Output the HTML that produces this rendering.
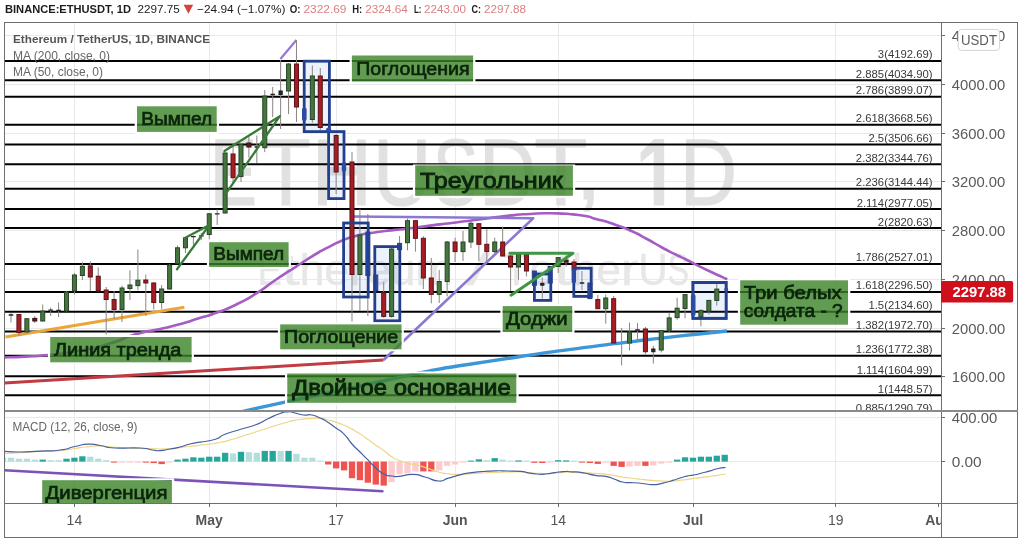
<!DOCTYPE html>
<html><head><meta charset="utf-8"><title>ETHUSDT 1D</title>
<style>html,body{margin:0;padding:0;background:#fff;}body{width:1024px;height:541px;overflow:hidden;font-family:"Liberation Sans",sans-serif;}svg{display:block;position:absolute;left:0;top:0;filter:blur(0.35px);}text{font-family:"Liberation Sans",sans-serif;}</style></head><body>
<svg width="1024" height="541" viewBox="0 0 1024 541">
<rect x="0" y="0" width="1024" height="541" fill="#fff"/>
<defs><clipPath id="main"><rect x="4.5" y="22.5" width="936.5" height="388.3"/></clipPath>
<clipPath id="mfull"><rect x="4.5" y="22.5" width="936.5" height="480.5"/></clipPath>
<clipPath id="taxis"><rect x="4.5" y="503.0" width="936.5" height="34.0"/></clipPath>
<clipPath id="paxis"><rect x="941.0" y="22.5" width="76.5" height="480.5"/></clipPath>
</defs>
<g stroke="#e9e9e9" stroke-width="1" shape-rendering="crispEdges">
<line x1="74.4" y1="22.5" x2="74.4" y2="503.0"/>
<line x1="209.2" y1="22.5" x2="209.2" y2="503.0"/>
<line x1="336.1" y1="22.5" x2="336.1" y2="503.0"/>
<line x1="455.1" y1="22.5" x2="455.1" y2="503.0"/>
<line x1="558.2" y1="22.5" x2="558.2" y2="503.0"/>
<line x1="693.0" y1="22.5" x2="693.0" y2="503.0"/>
<line x1="835.7" y1="22.5" x2="835.7" y2="503.0"/>
<line x1="4.5" y1="35.7" x2="941.0" y2="35.7"/>
<line x1="4.5" y1="84.5" x2="941.0" y2="84.5"/>
<line x1="4.5" y1="133.2" x2="941.0" y2="133.2"/>
<line x1="4.5" y1="181.9" x2="941.0" y2="181.9"/>
<line x1="4.5" y1="230.6" x2="941.0" y2="230.6"/>
<line x1="4.5" y1="279.3" x2="941.0" y2="279.3"/>
<line x1="4.5" y1="328.1" x2="941.0" y2="328.1"/>
<line x1="4.5" y1="376.8" x2="941.0" y2="376.8"/>
<line x1="4.5" y1="417.7" x2="941.0" y2="417.7"/>
<line x1="4.5" y1="461.6" x2="941.0" y2="461.6"/>
</g>
<g fill="#e1e1e1" stroke="#e1e1e1" stroke-width="1.2" stroke-linejoin="round" clip-path="url(#main)">
<text x="210.0" y="205" font-size="95" textLength="47.0" lengthAdjust="spacingAndGlyphs">E</text>
<text x="261.3" y="205" font-size="95" textLength="49.4" lengthAdjust="spacingAndGlyphs">T</text>
<text x="311.7" y="205" font-size="95" textLength="60.2" lengthAdjust="spacingAndGlyphs">H</text>
<text x="372.9" y="205" font-size="95" textLength="58.3" lengthAdjust="spacingAndGlyphs">U</text>
<text x="433.1" y="205" font-size="95" textLength="45.2" lengthAdjust="spacingAndGlyphs">S</text>
<text x="479.1" y="205" font-size="95" textLength="57.0" lengthAdjust="spacingAndGlyphs">D</text>
<text x="534.3" y="205" font-size="95" textLength="53.2" lengthAdjust="spacingAndGlyphs">T</text>
<text x="575.5" y="199" font-size="95" textLength="26.1" lengthAdjust="spacingAndGlyphs">,</text>
<text x="680.1" y="205" font-size="95" textLength="57.0" lengthAdjust="spacingAndGlyphs">D</text>
<path d="M654.3 139.6 L663.6 139.6 L663.6 205 L654.3 205 L654.3 150.2 L641.2 161.2 L641.2 152.6 Z"/>
<text x="257.8" y="284.5" font-size="45" fill="#e7e7e7" stroke="#e7e7e7" stroke-width="0.5" textLength="24.1" lengthAdjust="spacingAndGlyphs">E</text>
<text x="281.9" y="284.5" font-size="45" fill="#e7e7e7" stroke="#e7e7e7" stroke-width="0.5" textLength="17.8" lengthAdjust="spacingAndGlyphs">t</text>
<text x="299.7" y="284.5" font-size="45" fill="#e7e7e7" stroke="#e7e7e7" stroke-width="0.5" textLength="24.6" lengthAdjust="spacingAndGlyphs">h</text>
<text x="324.3" y="284.5" font-size="45" fill="#e7e7e7" stroke="#e7e7e7" stroke-width="0.5" textLength="24.5" lengthAdjust="spacingAndGlyphs">e</text>
<text x="348.8" y="284.5" font-size="45" fill="#e7e7e7" stroke="#e7e7e7" stroke-width="0.5" textLength="17.5" lengthAdjust="spacingAndGlyphs">r</text>
<text x="366.3" y="284.5" font-size="45" fill="#e7e7e7" stroke="#e7e7e7" stroke-width="0.5" textLength="24.5" lengthAdjust="spacingAndGlyphs">e</text>
<text x="390.8" y="284.5" font-size="45" fill="#e7e7e7" stroke="#e7e7e7" stroke-width="0.5" textLength="24.6" lengthAdjust="spacingAndGlyphs">u</text>
<text x="415.4" y="284.5" font-size="45" fill="#e7e7e7" stroke="#e7e7e7" stroke-width="0.5" textLength="37.4" lengthAdjust="spacingAndGlyphs">m</text>
<text x="466.3" y="284.5" font-size="45" fill="#e7e7e7" stroke="#e7e7e7" stroke-width="0.5" textLength="23.6" lengthAdjust="spacingAndGlyphs">/</text>
<text x="503.4" y="284.5" font-size="45" fill="#e7e7e7" stroke="#e7e7e7" stroke-width="0.5" textLength="26.1" lengthAdjust="spacingAndGlyphs">T</text>
<text x="529.6" y="284.5" font-size="45" fill="#e7e7e7" stroke="#e7e7e7" stroke-width="0.5" textLength="24.5" lengthAdjust="spacingAndGlyphs">e</text>
<text x="554.1" y="284.5" font-size="45" fill="#e7e7e7" stroke="#e7e7e7" stroke-width="0.5" textLength="17.8" lengthAdjust="spacingAndGlyphs">t</text>
<text x="571.9" y="284.5" font-size="45" fill="#e7e7e7" stroke="#e7e7e7" stroke-width="0.5" textLength="24.6" lengthAdjust="spacingAndGlyphs">h</text>
<text x="596.5" y="284.5" font-size="45" fill="#e7e7e7" stroke="#e7e7e7" stroke-width="0.5" textLength="24.5" lengthAdjust="spacingAndGlyphs">e</text>
<text x="621.0" y="284.5" font-size="45" fill="#e7e7e7" stroke="#e7e7e7" stroke-width="0.5" textLength="17.5" lengthAdjust="spacingAndGlyphs">r</text>
<text x="638.5" y="284.5" font-size="45" fill="#e7e7e7" stroke="#e7e7e7" stroke-width="0.5" textLength="29.2" lengthAdjust="spacingAndGlyphs">U</text>
<text x="667.6" y="284.5" font-size="45" fill="#e7e7e7" stroke="#e7e7e7" stroke-width="0.5" textLength="21.6" lengthAdjust="spacingAndGlyphs">S</text>
</g>
<g clip-path="url(#main)">
<g stroke="#000" stroke-width="2">
<line x1="4.5" y1="61.00" x2="941.0" y2="61.00"/>
<line x1="4.5" y1="80.22" x2="941.0" y2="80.22"/>
<line x1="4.5" y1="96.76" x2="941.0" y2="96.76"/>
<line x1="4.5" y1="124.84" x2="941.0" y2="124.84"/>
<line x1="4.5" y1="144.56" x2="941.0" y2="144.56"/>
<line x1="4.5" y1="164.28" x2="941.0" y2="164.28"/>
<line x1="4.5" y1="188.68" x2="941.0" y2="188.68"/>
<line x1="4.5" y1="209.06" x2="941.0" y2="209.06"/>
<line x1="4.5" y1="228.12" x2="941.0" y2="228.12"/>
<line x1="4.5" y1="263.88" x2="941.0" y2="263.88"/>
<line x1="4.5" y1="291.96" x2="941.0" y2="291.96"/>
<line x1="4.5" y1="311.68" x2="941.0" y2="311.68"/>
<line x1="4.5" y1="331.39" x2="941.0" y2="331.39"/>
<line x1="4.5" y1="355.79" x2="941.0" y2="355.79"/>
<line x1="4.5" y1="376.18" x2="941.0" y2="376.18"/>
<line x1="4.5" y1="395.23" x2="941.0" y2="395.23"/>
<line x1="4.5" y1="414.45" x2="941.0" y2="414.45"/>
</g>
<g font-size="11.3" fill="#3a3a3a" text-anchor="end">
<text x="932.5" y="58.4">3(4192.69)</text>
<text x="932.5" y="77.6">2.885(4034.90)</text>
<text x="932.5" y="94.2">2.786(3899.07)</text>
<text x="932.5" y="122.2">2.618(3668.56)</text>
<text x="932.5" y="142.0">2.5(3506.66)</text>
<text x="932.5" y="161.7">2.382(3344.76)</text>
<text x="932.5" y="186.1">2.236(3144.44)</text>
<text x="932.5" y="206.5">2.114(2977.05)</text>
<text x="932.5" y="225.5">2(2820.63)</text>
<text x="932.5" y="261.3">1.786(2527.01)</text>
<text x="932.5" y="289.4">1.618(2296.50)</text>
<text x="932.5" y="309.1">1.5(2134.60)</text>
<text x="932.5" y="328.8">1.382(1972.70)</text>
<text x="932.5" y="353.2">1.236(1772.38)</text>
<text x="932.5" y="373.6">1.114(1604.99)</text>
<text x="932.5" y="392.6">1(1448.57)</text>
<text x="932.5" y="411.9">0.885(1290.79)</text>
</g>
<path fill="none" stroke="#3b97d8" stroke-width="3.4" stroke-linejoin="round" d="M241.0 411.9 C243.1 411.4 231.9 413.8 247.3 410.4 C262.7 407.0 256.4 408.3 287.3 401.6 C318.2 394.9 305.8 397.7 340.0 390.3 C374.2 382.9 360.0 386.0 390.0 379.5 C420.0 373.0 404.5 375.7 430.0 370.8 C455.5 365.9 437.7 369.3 466.4 364.8 C495.1 360.3 485.2 361.8 516.2 357.2 C547.2 352.6 531.7 354.8 559.4 350.9 C587.1 347.0 574.9 348.7 599.2 345.6 C623.5 342.5 610.3 344.3 632.4 341.6 C654.5 338.9 643.5 340.1 665.6 337.6 C687.7 335.1 678.3 336.2 698.8 334.0 C719.3 331.8 717.6 332.0 727.0 331.0"/>
<path fill="none" stroke="#a65cc4" stroke-width="2.6" stroke-linejoin="round" stroke-linecap="round" d="M4.5 357.5 C11.3 357.2 10.7 357.4 25.0 356.6 C39.3 355.8 29.2 357.0 47.5 355.0 C65.8 353.0 59.2 354.3 80.0 350.5 C100.8 346.7 91.5 348.9 110.0 343.5 C128.5 338.1 119.3 338.9 135.6 334.2 C151.9 329.5 144.7 332.5 159.0 329.3 C173.3 326.1 165.6 328.1 178.6 324.5 C191.6 320.9 185.1 322.7 198.1 318.6 C211.1 314.5 204.7 317.2 217.7 312.3 C230.7 307.4 224.2 310.4 237.2 304.0 C250.2 297.6 243.7 301.4 256.7 293.2 C269.7 285.0 263.2 288.3 276.2 279.5 C289.2 270.7 286.0 273.1 295.8 266.8 C305.6 260.5 297.9 265.3 305.5 260.5 C313.1 255.7 310.0 257.4 318.5 252.5 C327.0 247.6 322.7 250.0 331.0 245.8 C339.3 241.6 335.5 243.2 343.5 240.0 C351.5 236.8 347.5 238.3 355.0 236.2 C362.5 234.1 356.0 235.4 366.0 233.7 C376.0 232.0 371.7 232.7 385.0 231.0 C398.3 229.3 391.0 230.5 406.0 228.7 C421.0 226.9 413.3 227.7 430.0 225.6 C446.7 223.5 437.7 224.8 456.0 222.5 C474.3 220.2 466.3 221.1 485.0 218.7 C503.7 216.3 497.0 217.0 512.0 215.4 C527.0 213.8 518.5 214.7 530.0 214.0 C541.5 213.3 535.7 213.4 546.4 213.3 C557.1 213.2 553.1 213.2 562.0 213.6 C570.9 214.0 564.7 213.5 573.0 214.4 C581.3 215.3 579.7 214.8 587.0 216.3 C594.3 217.8 588.7 217.1 595.0 218.8 C601.3 220.5 598.5 219.3 606.0 221.5 C613.5 223.7 608.7 222.2 617.4 225.5 C626.1 228.8 622.1 226.8 632.0 231.3 C641.9 235.8 637.0 233.6 647.0 239.0 C657.0 244.4 652.7 242.4 662.0 247.5 C671.3 252.6 666.7 250.0 675.0 254.2 C683.3 258.4 679.7 256.3 687.0 260.0 C694.3 263.7 690.3 261.9 697.0 265.2 C703.7 268.5 700.3 266.8 707.0 270.0 C713.7 273.2 710.6 271.8 717.0 274.7 C723.4 277.6 723.2 277.4 726.3 278.8"/>
<line x1="4.5" y1="383" x2="383.5" y2="360" stroke="#c23a42" stroke-width="3"/>
<polyline fill="none" stroke="#8c78d2" stroke-width="2.6" stroke-linejoin="round" points="352.5,216.5 533.2,218.2 383.5,360"/>
<line x1="5.5" y1="337" x2="184.4" y2="307.3" stroke="#eaa63a" stroke-width="3.1"/>
<line x1="280.4" y1="59" x2="296.4" y2="40" stroke="#9577d6" stroke-width="2.2"/>
<rect x="304.2" y="61.2" width="25.2" height="70.4" fill="#2f6fd6" fill-opacity="0.09" stroke="none"/>
<rect x="328.6" y="131.6" width="15.4" height="67.0" fill="#2f6fd6" fill-opacity="0.09" stroke="none"/>
<rect x="343.6" y="223.0" width="24.6" height="74.0" fill="#2f6fd6" fill-opacity="0.09" stroke="none"/>
<rect x="374.8" y="246.6" width="25.0" height="74.2" fill="#2f6fd6" fill-opacity="0.09" stroke="none"/>
<rect x="534.4" y="274.0" width="16.4" height="26.4" fill="#2f6fd6" fill-opacity="0.09" stroke="none"/>
<rect x="573.8" y="268.2" width="17.4" height="28.2" fill="#2f6fd6" fill-opacity="0.09" stroke="none"/>
<rect x="692.9" y="282.5" width="33.3" height="35.9" fill="#2f6fd6" fill-opacity="0.09" stroke="none"/>
<line x1="11.00" y1="313.0" x2="11.00" y2="322.5" stroke="#8c8484" stroke-width="1"/><line x1="8.70" y1="315.0" x2="13.30" y2="315.0" stroke="#222" stroke-width="1.3"/>
<line x1="18.93" y1="314.0" x2="18.93" y2="336.0" stroke="#8c8484" stroke-width="1"/><rect x="16.93" y="314.5" width="4.0" height="18.0" fill="#a61d24" stroke="#5e1217" stroke-width="1"/>
<line x1="26.86" y1="318.0" x2="26.86" y2="333.0" stroke="#8c8484" stroke-width="1"/><rect x="24.86" y="318.7" width="4.0" height="13.3" fill="#46753f" stroke="#274524" stroke-width="1"/>
<line x1="34.79" y1="316.0" x2="34.79" y2="323.0" stroke="#8c8484" stroke-width="1"/><rect x="32.79" y="318.4" width="4.0" height="2.6" fill="#5a1a1e" stroke="#3a1010" stroke-width="1"/>
<line x1="42.72" y1="304.5" x2="42.72" y2="321.5" stroke="#8c8484" stroke-width="1"/><rect x="40.72" y="311.0" width="4.0" height="10.0" fill="#46753f" stroke="#274524" stroke-width="1"/>
<line x1="50.65" y1="307.5" x2="50.65" y2="316.0" stroke="#8c8484" stroke-width="1"/><line x1="48.35" y1="310.1" x2="52.95" y2="310.1" stroke="#222" stroke-width="1.3"/>
<line x1="58.58" y1="302.5" x2="58.58" y2="317.0" stroke="#8c8484" stroke-width="1"/><line x1="56.28" y1="310.5" x2="60.88" y2="310.5" stroke="#222" stroke-width="1.3"/>
<line x1="66.51" y1="291.0" x2="66.51" y2="311.5" stroke="#8c8484" stroke-width="1"/><rect x="64.51" y="292.0" width="4.0" height="19.0" fill="#46753f" stroke="#274524" stroke-width="1"/>
<line x1="74.44" y1="273.0" x2="74.44" y2="294.5" stroke="#8c8484" stroke-width="1"/><rect x="72.44" y="275.0" width="4.0" height="16.0" fill="#46753f" stroke="#274524" stroke-width="1"/>
<line x1="82.37" y1="262.2" x2="82.37" y2="280.0" stroke="#8c8484" stroke-width="1"/><rect x="80.37" y="266.3" width="4.0" height="9.2" fill="#46753f" stroke="#274524" stroke-width="1"/>
<line x1="90.30" y1="261.4" x2="90.30" y2="291.0" stroke="#8c8484" stroke-width="1"/><rect x="88.30" y="265.9" width="4.0" height="11.1" fill="#a61d24" stroke="#5e1217" stroke-width="1"/>
<line x1="98.23" y1="267.4" x2="98.23" y2="291.5" stroke="#8c8484" stroke-width="1"/><rect x="96.23" y="276.2" width="4.0" height="14.8" fill="#a61d24" stroke="#5e1217" stroke-width="1"/>
<line x1="106.16" y1="287.0" x2="106.16" y2="334.5" stroke="#8c8484" stroke-width="1"/><rect x="104.16" y="290.0" width="4.0" height="9.5" fill="#a61d24" stroke="#5e1217" stroke-width="1"/>
<line x1="114.09" y1="291.0" x2="114.09" y2="319.0" stroke="#8c8484" stroke-width="1"/><rect x="112.09" y="299.5" width="4.0" height="10.0" fill="#a61d24" stroke="#5e1217" stroke-width="1"/>
<line x1="122.02" y1="285.5" x2="122.02" y2="322.0" stroke="#8c8484" stroke-width="1"/><rect x="120.02" y="288.0" width="4.0" height="21.5" fill="#46753f" stroke="#274524" stroke-width="1"/>
<line x1="129.95" y1="270.3" x2="129.95" y2="300.0" stroke="#8c8484" stroke-width="1"/><rect x="127.95" y="285.0" width="4.0" height="3.5" fill="#46753f" stroke="#274524" stroke-width="1"/>
<line x1="137.88" y1="249.6" x2="137.88" y2="290.3" stroke="#8c8484" stroke-width="1"/><rect x="135.88" y="280.2" width="4.0" height="5.4" fill="#46753f" stroke="#274524" stroke-width="1"/>
<line x1="145.81" y1="274.5" x2="145.81" y2="316.0" stroke="#8c8484" stroke-width="1"/><rect x="143.81" y="280.0" width="4.0" height="3.0" fill="#a61d24" stroke="#5e1217" stroke-width="1"/>
<line x1="153.74" y1="282.0" x2="153.74" y2="309.5" stroke="#8c8484" stroke-width="1"/><rect x="151.74" y="283.0" width="4.0" height="19.5" fill="#a61d24" stroke="#5e1217" stroke-width="1"/>
<line x1="161.67" y1="285.0" x2="161.67" y2="309.0" stroke="#8c8484" stroke-width="1"/><rect x="159.67" y="289.0" width="4.0" height="13.5" fill="#46753f" stroke="#274524" stroke-width="1"/>
<line x1="169.60" y1="264.0" x2="169.60" y2="289.5" stroke="#8c8484" stroke-width="1"/><rect x="167.60" y="265.0" width="4.0" height="24.0" fill="#46753f" stroke="#274524" stroke-width="1"/>
<line x1="177.53" y1="245.5" x2="177.53" y2="264.0" stroke="#8c8484" stroke-width="1"/><rect x="175.53" y="247.8" width="4.0" height="15.9" fill="#46753f" stroke="#274524" stroke-width="1"/>
<line x1="185.46" y1="237.0" x2="185.46" y2="253.0" stroke="#8c8484" stroke-width="1"/><rect x="183.46" y="237.8" width="4.0" height="10.0" fill="#46753f" stroke="#274524" stroke-width="1"/>
<line x1="193.39" y1="235.5" x2="193.39" y2="245.0" stroke="#8c8484" stroke-width="1"/><line x1="191.09" y1="236.7" x2="195.69" y2="236.7" stroke="#222" stroke-width="1.3"/>
<line x1="201.32" y1="233.0" x2="201.32" y2="240.0" stroke="#8c8484" stroke-width="1"/><line x1="199.02" y1="235.8" x2="203.62" y2="235.8" stroke="#222" stroke-width="1.3"/>
<line x1="209.25" y1="213.0" x2="209.25" y2="239.3" stroke="#8c8484" stroke-width="1"/><rect x="207.25" y="213.8" width="4.0" height="20.7" fill="#46753f" stroke="#274524" stroke-width="1"/>
<line x1="217.18" y1="209.4" x2="217.18" y2="225.0" stroke="#8c8484" stroke-width="1"/><line x1="214.88" y1="213.8" x2="219.48" y2="213.8" stroke="#222" stroke-width="1.3"/>
<line x1="225.11" y1="151.0" x2="225.11" y2="213.5" stroke="#8c8484" stroke-width="1"/><rect x="223.11" y="153.0" width="4.0" height="60.0" fill="#46753f" stroke="#274524" stroke-width="1"/>
<line x1="233.04" y1="143.0" x2="233.04" y2="183.0" stroke="#8c8484" stroke-width="1"/><rect x="231.04" y="154.0" width="4.0" height="23.7" fill="#a61d24" stroke="#5e1217" stroke-width="1"/>
<line x1="240.97" y1="143.0" x2="240.97" y2="182.0" stroke="#8c8484" stroke-width="1"/><rect x="238.97" y="144.4" width="4.0" height="32.2" fill="#46753f" stroke="#274524" stroke-width="1"/>
<line x1="248.90" y1="136.6" x2="248.90" y2="157.7" stroke="#8c8484" stroke-width="1"/><rect x="246.90" y="143.0" width="4.0" height="4.0" fill="#5a1a1e" stroke="#3a1010" stroke-width="1"/>
<line x1="256.83" y1="135.5" x2="256.83" y2="163.0" stroke="#8c8484" stroke-width="1"/><line x1="254.53" y1="147.0" x2="259.13" y2="147.0" stroke="#222" stroke-width="1.3"/>
<line x1="264.76" y1="90.0" x2="264.76" y2="152.0" stroke="#8c8484" stroke-width="1"/><rect x="262.76" y="96.0" width="4.0" height="51.7" fill="#46753f" stroke="#274524" stroke-width="1"/>
<line x1="272.69" y1="87.0" x2="272.69" y2="117.0" stroke="#8c8484" stroke-width="1"/><line x1="270.39" y1="94.5" x2="274.99" y2="94.5" stroke="#222" stroke-width="1.3"/>
<line x1="280.62" y1="60.0" x2="280.62" y2="129.0" stroke="#8c8484" stroke-width="1"/><rect x="279.02" y="91.0" width="3.2" height="3.5" fill="#2b2b2b" stroke="#1a1a1a" stroke-width="1"/>
<line x1="288.55" y1="63.0" x2="288.55" y2="114.0" stroke="#8c8484" stroke-width="1"/><rect x="286.55" y="64.0" width="4.0" height="27.0" fill="#46753f" stroke="#274524" stroke-width="1"/>
<line x1="296.48" y1="40.0" x2="296.48" y2="122.0" stroke="#8c8484" stroke-width="1"/><rect x="294.48" y="64.0" width="4.0" height="43.0" fill="#a61d24" stroke="#5e1217" stroke-width="1"/>
<line x1="312.34" y1="65.5" x2="312.34" y2="122.5" stroke="#8c8484" stroke-width="1"/><rect x="310.34" y="76.0" width="4.0" height="43.5" fill="#46753f" stroke="#274524" stroke-width="1"/>
<line x1="320.27" y1="68.0" x2="320.27" y2="130.0" stroke="#8c8484" stroke-width="1"/><rect x="318.27" y="76.0" width="4.0" height="51.5" fill="#a61d24" stroke="#5e1217" stroke-width="1"/>
<line x1="336.13" y1="134.0" x2="336.13" y2="194.0" stroke="#8c8484" stroke-width="1"/><rect x="334.13" y="135.5" width="4.0" height="36.5" fill="#a61d24" stroke="#5e1217" stroke-width="1"/>
<line x1="351.99" y1="152.0" x2="351.99" y2="321.5" stroke="#8c8484" stroke-width="1"/><rect x="349.99" y="162.0" width="4.0" height="112.5" fill="#a61d24" stroke="#5e1217" stroke-width="1"/>
<line x1="359.92" y1="209.0" x2="359.92" y2="311.0" stroke="#8c8484" stroke-width="1"/><rect x="357.92" y="235.0" width="4.0" height="39.5" fill="#46753f" stroke="#274524" stroke-width="1"/>
<line x1="367.85" y1="214.0" x2="367.85" y2="316.0" stroke="#8c8484" stroke-width="1"/><rect x="365.85" y="232.0" width="4.0" height="43.5" fill="#2d4ba0" stroke="#24408c" stroke-width="1"/>
<line x1="375.78" y1="275.0" x2="375.78" y2="290.5" stroke="#8c8484" stroke-width="1"/><rect x="373.78" y="275.0" width="4.0" height="15.5" fill="#2d4ba0" stroke="#24408c" stroke-width="1"/>
<line x1="383.71" y1="282.0" x2="383.71" y2="317.7" stroke="#8c8484" stroke-width="1"/><rect x="381.71" y="292.6" width="4.0" height="23.8" fill="#a61d24" stroke="#5e1217" stroke-width="1"/>
<line x1="391.64" y1="248.0" x2="391.64" y2="317.7" stroke="#8c8484" stroke-width="1"/><rect x="389.64" y="249.0" width="4.0" height="67.4" fill="#46753f" stroke="#274524" stroke-width="1"/>
<line x1="399.57" y1="236.0" x2="399.57" y2="250.0" stroke="#8c8484" stroke-width="1"/><rect x="397.57" y="243.4" width="4.0" height="6.2" fill="#2d4ba0" stroke="#24408c" stroke-width="1"/>
<line x1="407.50" y1="218.6" x2="407.50" y2="250.4" stroke="#8c8484" stroke-width="1"/><rect x="405.50" y="220.7" width="4.0" height="22.0" fill="#46753f" stroke="#274524" stroke-width="1"/>
<line x1="415.43" y1="220.0" x2="415.43" y2="251.7" stroke="#8c8484" stroke-width="1"/><rect x="413.43" y="220.7" width="4.0" height="17.6" fill="#a61d24" stroke="#5e1217" stroke-width="1"/>
<line x1="423.36" y1="236.2" x2="423.36" y2="289.0" stroke="#8c8484" stroke-width="1"/><rect x="421.36" y="238.3" width="4.0" height="39.7" fill="#a61d24" stroke="#5e1217" stroke-width="1"/>
<line x1="431.29" y1="258.0" x2="431.29" y2="303.4" stroke="#8c8484" stroke-width="1"/><rect x="429.29" y="278.0" width="4.0" height="16.4" fill="#a61d24" stroke="#5e1217" stroke-width="1"/>
<line x1="439.22" y1="270.0" x2="439.22" y2="303.0" stroke="#8c8484" stroke-width="1"/><rect x="437.22" y="281.5" width="4.0" height="12.9" fill="#46753f" stroke="#274524" stroke-width="1"/>
<line x1="447.15" y1="241.0" x2="447.15" y2="296.4" stroke="#8c8484" stroke-width="1"/><rect x="445.15" y="242.0" width="4.0" height="39.5" fill="#46753f" stroke="#274524" stroke-width="1"/>
<line x1="455.08" y1="237.7" x2="455.08" y2="262.0" stroke="#8c8484" stroke-width="1"/><rect x="453.08" y="242.0" width="4.0" height="9.6" fill="#a61d24" stroke="#5e1217" stroke-width="1"/>
<line x1="463.01" y1="231.0" x2="463.01" y2="261.0" stroke="#8c8484" stroke-width="1"/><rect x="461.01" y="242.0" width="4.0" height="9.6" fill="#46753f" stroke="#274524" stroke-width="1"/>
<line x1="470.94" y1="221.0" x2="470.94" y2="248.0" stroke="#8c8484" stroke-width="1"/><rect x="468.94" y="223.3" width="4.0" height="18.7" fill="#46753f" stroke="#274524" stroke-width="1"/>
<line x1="478.87" y1="223.0" x2="478.87" y2="261.0" stroke="#8c8484" stroke-width="1"/><rect x="476.87" y="223.7" width="4.0" height="20.6" fill="#a61d24" stroke="#5e1217" stroke-width="1"/>
<line x1="486.80" y1="228.8" x2="486.80" y2="261.0" stroke="#8c8484" stroke-width="1"/><rect x="484.80" y="244.3" width="4.0" height="7.3" fill="#a61d24" stroke="#5e1217" stroke-width="1"/>
<line x1="494.73" y1="237.7" x2="494.73" y2="253.0" stroke="#8c8484" stroke-width="1"/><rect x="492.73" y="242.0" width="4.0" height="9.6" fill="#46753f" stroke="#274524" stroke-width="1"/>
<line x1="502.66" y1="226.6" x2="502.66" y2="256.5" stroke="#8c8484" stroke-width="1"/><rect x="500.66" y="242.0" width="4.0" height="14.0" fill="#a61d24" stroke="#5e1217" stroke-width="1"/>
<line x1="510.59" y1="255.0" x2="510.59" y2="291.0" stroke="#8c8484" stroke-width="1"/><rect x="508.59" y="256.0" width="4.0" height="11.0" fill="#a61d24" stroke="#5e1217" stroke-width="1"/>
<line x1="518.52" y1="254.0" x2="518.52" y2="279.8" stroke="#8c8484" stroke-width="1"/><rect x="516.52" y="254.3" width="4.0" height="12.7" fill="#46753f" stroke="#274524" stroke-width="1"/>
<line x1="526.45" y1="254.0" x2="526.45" y2="276.5" stroke="#8c8484" stroke-width="1"/><rect x="524.45" y="254.3" width="4.0" height="16.7" fill="#a61d24" stroke="#5e1217" stroke-width="1"/>
<line x1="534.38" y1="271.0" x2="534.38" y2="285.3" stroke="#8c8484" stroke-width="1"/><rect x="532.38" y="271.0" width="4.0" height="14.3" fill="#2d4ba0" stroke="#24408c" stroke-width="1"/>
<line x1="542.31" y1="277.6" x2="542.31" y2="298.6" stroke="#8c8484" stroke-width="1"/><rect x="540.71" y="283.3" width="3.2" height="1.9" fill="#2b2b2b" stroke="#1a1a1a" stroke-width="1"/>
<line x1="550.24" y1="266.5" x2="550.24" y2="283.0" stroke="#8c8484" stroke-width="1"/><rect x="548.24" y="266.5" width="4.0" height="16.5" fill="#2d4ba0" stroke="#24408c" stroke-width="1"/>
<line x1="558.17" y1="257.0" x2="558.17" y2="273.0" stroke="#8c8484" stroke-width="1"/><rect x="556.17" y="257.6" width="4.0" height="8.9" fill="#46753f" stroke="#274524" stroke-width="1"/>
<line x1="566.10" y1="254.3" x2="566.10" y2="266.5" stroke="#8c8484" stroke-width="1"/><rect x="564.10" y="260.0" width="4.0" height="2.2" fill="#5a1a1e" stroke="#3a1010" stroke-width="1"/>
<line x1="574.03" y1="259.0" x2="574.03" y2="270.0" stroke="#8c8484" stroke-width="1"/><rect x="572.03" y="262.0" width="4.0" height="8.0" fill="#a61d24" stroke="#5e1217" stroke-width="1"/>
<line x1="581.96" y1="271.0" x2="581.96" y2="290.0" stroke="#8c8484" stroke-width="1"/><line x1="579.66" y1="283.0" x2="584.26" y2="283.0" stroke="#222" stroke-width="1.3"/>
<line x1="589.89" y1="283.0" x2="589.89" y2="298.6" stroke="#8c8484" stroke-width="1"/><rect x="587.89" y="283.0" width="4.0" height="15.6" fill="#2d4ba0" stroke="#24408c" stroke-width="1"/>
<line x1="597.82" y1="295.0" x2="597.82" y2="309.0" stroke="#8c8484" stroke-width="1"/><rect x="595.82" y="299.5" width="4.0" height="9.2" fill="#a61d24" stroke="#5e1217" stroke-width="1"/>
<line x1="605.75" y1="294.5" x2="605.75" y2="323.7" stroke="#8c8484" stroke-width="1"/><rect x="603.75" y="298.0" width="4.0" height="10.7" fill="#46753f" stroke="#274524" stroke-width="1"/>
<line x1="613.68" y1="296.0" x2="613.68" y2="343.5" stroke="#8c8484" stroke-width="1"/><rect x="611.68" y="298.7" width="4.0" height="44.3" fill="#a61d24" stroke="#5e1217" stroke-width="1"/>
<line x1="621.61" y1="328.0" x2="621.61" y2="365.5" stroke="#8c8484" stroke-width="1"/>
<line x1="629.54" y1="322.5" x2="629.54" y2="350.5" stroke="#8c8484" stroke-width="1"/><rect x="627.54" y="332.0" width="4.0" height="11.0" fill="#46753f" stroke="#274524" stroke-width="1"/>
<line x1="637.47" y1="323.0" x2="637.47" y2="341.0" stroke="#8c8484" stroke-width="1"/><line x1="635.17" y1="330.0" x2="639.77" y2="330.0" stroke="#222" stroke-width="1.3"/>
<line x1="645.40" y1="327.0" x2="645.40" y2="354.5" stroke="#8c8484" stroke-width="1"/><rect x="643.40" y="329.0" width="4.0" height="22.7" fill="#a61d24" stroke="#5e1217" stroke-width="1"/>
<line x1="653.33" y1="346.0" x2="653.33" y2="363.7" stroke="#8c8484" stroke-width="1"/><rect x="651.73" y="349.0" width="3.2" height="2.7" fill="#2b2b2b" stroke="#1a1a1a" stroke-width="1"/>
<line x1="661.26" y1="330.0" x2="661.26" y2="352.5" stroke="#8c8484" stroke-width="1"/><rect x="659.26" y="330.5" width="4.0" height="19.5" fill="#46753f" stroke="#274524" stroke-width="1"/>
<line x1="669.19" y1="312.7" x2="669.19" y2="332.0" stroke="#8c8484" stroke-width="1"/><rect x="667.19" y="317.9" width="4.0" height="12.3" fill="#46753f" stroke="#274524" stroke-width="1"/>
<line x1="677.12" y1="297.8" x2="677.12" y2="319.8" stroke="#8c8484" stroke-width="1"/><rect x="675.12" y="308.2" width="4.0" height="9.4" fill="#46753f" stroke="#274524" stroke-width="1"/>
<line x1="685.05" y1="294.0" x2="685.05" y2="318.5" stroke="#8c8484" stroke-width="1"/><rect x="683.05" y="294.6" width="4.0" height="13.9" fill="#46753f" stroke="#274524" stroke-width="1"/>
<line x1="700.91" y1="309.5" x2="700.91" y2="326.3" stroke="#8c8484" stroke-width="1"/><rect x="698.91" y="310.4" width="4.0" height="6.2" fill="#46753f" stroke="#274524" stroke-width="1"/>
<line x1="708.84" y1="300.0" x2="708.84" y2="314.6" stroke="#8c8484" stroke-width="1"/><rect x="706.84" y="300.4" width="4.0" height="10.7" fill="#46753f" stroke="#274524" stroke-width="1"/>
<line x1="716.77" y1="282.3" x2="716.77" y2="305.6" stroke="#8c8484" stroke-width="1"/><rect x="714.77" y="289.1" width="4.0" height="11.3" fill="#46753f" stroke="#274524" stroke-width="1"/>
<rect x="304.2" y="61.2" width="25.2" height="70.4" fill="none" stroke="#24408c" stroke-width="2.8"/>
<rect x="328.6" y="131.6" width="15.4" height="67.0" fill="none" stroke="#24408c" stroke-width="2.8"/>
<rect x="343.6" y="223.0" width="24.6" height="74.0" fill="none" stroke="#24408c" stroke-width="2.8"/>
<rect x="374.8" y="246.6" width="25.0" height="74.2" fill="none" stroke="#24408c" stroke-width="2.8"/>
<rect x="534.4" y="274.0" width="16.4" height="26.4" fill="none" stroke="#24408c" stroke-width="2.8"/>
<rect x="573.8" y="268.2" width="17.4" height="28.2" fill="none" stroke="#24408c" stroke-width="2.8"/>
<rect x="692.9" y="282.5" width="33.3" height="35.9" fill="none" stroke="#24408c" stroke-width="3.0"/>
<rect x="302" y="107.5" width="4.6" height="13.5" rx="2" fill="#2d4ba0"/>
<circle cx="328.6" cy="130" r="2.6" fill="#2d4ba0"/>
<rect x="341.8" y="162" width="4.4" height="10" rx="2" fill="#2d4ba0"/>
<rect x="690.9" y="294" width="4.6" height="22" rx="2" fill="#2d4ba0"/>
<rect x="571.6" y="269" width="4.4" height="14" rx="1.5" fill="#2d4ba0"/>
<circle cx="726.2" cy="289.6" r="2" fill="#2d4ba0"/>
<g fill="none" stroke="#3a7a38" stroke-width="2.3" stroke-linejoin="round" stroke-linecap="round">
<polyline points="224.4,151 279.8,116.2 225.5,194.2"/>
<polyline points="184.4,238.2 209.4,225 177,269.3"/>
</g>
<polyline fill="none" stroke="#3f9743" stroke-width="2.9" stroke-linejoin="round" stroke-linecap="round" points="509.8,253.2 573,253.2 511,295.3"/>
</g>
<g clip-path="url(#mfull)">
<rect x="-0.08" y="457.70" width="6.3" height="3.90" fill="#b2dfdb"/>
<rect x="7.85" y="457.70" width="6.3" height="3.90" fill="#b2dfdb"/>
<rect x="15.78" y="458.70" width="6.3" height="2.90" fill="#b2dfdb"/>
<rect x="23.71" y="458.70" width="6.3" height="2.90" fill="#b2dfdb"/>
<rect x="31.64" y="459.60" width="6.3" height="2.00" fill="#b2dfdb"/>
<rect x="39.57" y="459.60" width="6.3" height="2.00" fill="#26a69a"/>
<rect x="47.50" y="460.20" width="6.3" height="1.40" fill="#b2dfdb"/>
<rect x="55.43" y="460.20" width="6.3" height="1.40" fill="#b2dfdb"/>
<rect x="63.36" y="458.70" width="6.3" height="2.90" fill="#26a69a"/>
<rect x="71.29" y="457.70" width="6.3" height="3.90" fill="#26a69a"/>
<rect x="79.22" y="456.30" width="6.3" height="5.30" fill="#26a69a"/>
<rect x="87.15" y="456.70" width="6.3" height="4.90" fill="#b2dfdb"/>
<rect x="95.08" y="458.70" width="6.3" height="2.90" fill="#b2dfdb"/>
<rect x="103.01" y="460.20" width="6.3" height="1.40" fill="#b2dfdb"/>
<rect x="110.94" y="461.60" width="6.3" height="1.00" fill="#ef5350"/>
<rect x="118.87" y="461.60" width="6.3" height="1.00" fill="#fccbcd"/>
<rect x="126.80" y="461.60" width="6.3" height="1.00" fill="#fccbcd"/>
<rect x="134.73" y="461.60" width="6.3" height="1.00" fill="#fccbcd"/>
<rect x="142.66" y="461.60" width="6.3" height="1.00" fill="#ef5350"/>
<rect x="150.59" y="461.60" width="6.3" height="1.50" fill="#ef5350"/>
<rect x="158.52" y="461.60" width="6.3" height="2.50" fill="#ef5350"/>
<rect x="166.45" y="461.60" width="6.3" height="1.00" fill="#fccbcd"/>
<rect x="174.38" y="459.60" width="6.3" height="2.00" fill="#26a69a"/>
<rect x="182.31" y="458.70" width="6.3" height="2.90" fill="#26a69a"/>
<rect x="190.24" y="457.30" width="6.3" height="4.30" fill="#26a69a"/>
<rect x="198.17" y="457.70" width="6.3" height="3.90" fill="#26a69a"/>
<rect x="206.10" y="456.70" width="6.3" height="4.90" fill="#26a69a"/>
<rect x="214.03" y="456.70" width="6.3" height="4.90" fill="#26a69a"/>
<rect x="221.96" y="452.80" width="6.3" height="8.80" fill="#26a69a"/>
<rect x="229.89" y="453.40" width="6.3" height="8.20" fill="#b2dfdb"/>
<rect x="237.82" y="451.80" width="6.3" height="9.80" fill="#26a69a"/>
<rect x="245.75" y="452.20" width="6.3" height="9.40" fill="#b2dfdb"/>
<rect x="253.68" y="452.80" width="6.3" height="8.80" fill="#b2dfdb"/>
<rect x="261.61" y="450.90" width="6.3" height="10.70" fill="#26a69a"/>
<rect x="269.54" y="450.90" width="6.3" height="10.70" fill="#26a69a"/>
<rect x="277.47" y="450.90" width="6.3" height="10.70" fill="#b2dfdb"/>
<rect x="285.40" y="450.90" width="6.3" height="10.70" fill="#26a69a"/>
<rect x="293.33" y="453.80" width="6.3" height="7.80" fill="#b2dfdb"/>
<rect x="301.26" y="457.70" width="6.3" height="3.90" fill="#b2dfdb"/>
<rect x="309.19" y="457.70" width="6.3" height="3.90" fill="#b2dfdb"/>
<rect x="317.12" y="460.60" width="6.3" height="1.00" fill="#b2dfdb"/>
<rect x="325.05" y="461.60" width="6.3" height="2.90" fill="#ef5350"/>
<rect x="332.98" y="461.60" width="6.3" height="6.80" fill="#ef5350"/>
<rect x="340.91" y="461.60" width="6.3" height="8.80" fill="#ef5350"/>
<rect x="348.84" y="461.60" width="6.3" height="16.60" fill="#ef5350"/>
<rect x="356.77" y="461.60" width="6.3" height="18.60" fill="#ef5350"/>
<rect x="364.70" y="461.60" width="6.3" height="21.10" fill="#ef5350"/>
<rect x="372.63" y="461.60" width="6.3" height="23.00" fill="#ef5350"/>
<rect x="380.56" y="461.60" width="6.3" height="24.00" fill="#ef5350"/>
<rect x="388.49" y="461.60" width="6.3" height="20.50" fill="#fccbcd"/>
<rect x="396.42" y="461.60" width="6.3" height="12.70" fill="#fccbcd"/>
<rect x="404.35" y="461.60" width="6.3" height="11.70" fill="#fccbcd"/>
<rect x="412.28" y="461.60" width="6.3" height="9.80" fill="#fccbcd"/>
<rect x="420.21" y="461.60" width="6.3" height="9.80" fill="#ef5350"/>
<rect x="428.14" y="461.60" width="6.3" height="9.80" fill="#ef5350"/>
<rect x="436.07" y="461.60" width="6.3" height="8.80" fill="#fccbcd"/>
<rect x="444.00" y="461.60" width="6.3" height="4.30" fill="#fccbcd"/>
<rect x="451.93" y="461.60" width="6.3" height="2.90" fill="#fccbcd"/>
<rect x="459.86" y="461.60" width="6.3" height="1.00" fill="#fccbcd"/>
<rect x="467.79" y="460.60" width="6.3" height="1.00" fill="#26a69a"/>
<rect x="475.72" y="459.30" width="6.3" height="2.30" fill="#26a69a"/>
<rect x="483.65" y="460.20" width="6.3" height="1.40" fill="#b2dfdb"/>
<rect x="491.58" y="458.10" width="6.3" height="3.50" fill="#26a69a"/>
<rect x="499.51" y="459.60" width="6.3" height="2.00" fill="#b2dfdb"/>
<rect x="507.44" y="460.60" width="6.3" height="1.00" fill="#b2dfdb"/>
<rect x="515.37" y="460.40" width="6.3" height="1.20" fill="#26a69a"/>
<rect x="523.30" y="460.60" width="6.3" height="1.00" fill="#b2dfdb"/>
<rect x="531.23" y="461.60" width="6.3" height="1.20" fill="#ef5350"/>
<rect x="539.16" y="461.60" width="6.3" height="1.40" fill="#ef5350"/>
<rect x="547.09" y="461.60" width="6.3" height="1.00" fill="#fccbcd"/>
<rect x="555.02" y="460.20" width="6.3" height="1.40" fill="#26a69a"/>
<rect x="562.95" y="460.40" width="6.3" height="1.20" fill="#26a69a"/>
<rect x="570.88" y="460.60" width="6.3" height="1.00" fill="#b2dfdb"/>
<rect x="578.81" y="461.60" width="6.3" height="1.00" fill="#ef5350"/>
<rect x="586.74" y="461.60" width="6.3" height="1.40" fill="#ef5350"/>
<rect x="594.67" y="461.60" width="6.3" height="2.30" fill="#ef5350"/>
<rect x="602.60" y="461.60" width="6.3" height="1.00" fill="#fccbcd"/>
<rect x="610.53" y="461.60" width="6.3" height="4.30" fill="#ef5350"/>
<rect x="618.46" y="461.60" width="6.3" height="5.30" fill="#ef5350"/>
<rect x="626.39" y="461.60" width="6.3" height="4.90" fill="#fccbcd"/>
<rect x="634.32" y="461.60" width="6.3" height="4.30" fill="#fccbcd"/>
<rect x="642.25" y="461.60" width="6.3" height="4.30" fill="#ef5350"/>
<rect x="650.18" y="461.60" width="6.3" height="3.90" fill="#fccbcd"/>
<rect x="658.11" y="461.60" width="6.3" height="2.00" fill="#fccbcd"/>
<rect x="666.04" y="461.60" width="6.3" height="1.00" fill="#fccbcd"/>
<rect x="673.97" y="459.60" width="6.3" height="2.00" fill="#26a69a"/>
<rect x="681.90" y="457.30" width="6.3" height="4.30" fill="#26a69a"/>
<rect x="689.83" y="457.70" width="6.3" height="3.90" fill="#26a69a"/>
<rect x="697.76" y="456.70" width="6.3" height="4.90" fill="#26a69a"/>
<rect x="705.69" y="456.70" width="6.3" height="4.90" fill="#26a69a"/>
<rect x="713.62" y="455.70" width="6.3" height="5.90" fill="#26a69a"/>
<rect x="721.55" y="454.80" width="6.3" height="6.80" fill="#26a69a"/>
<path fill="none" stroke="#efd588" stroke-width="1.2" stroke-linejoin="round" d="M4.5 453.4 C9.7 453.2 8.2 453.4 20.0 452.7 C31.8 452.0 26.7 452.1 40.0 451.4 C53.3 450.7 48.3 451.6 60.0 450.6 C71.7 449.6 66.7 449.7 75.0 448.5 C83.3 447.3 76.7 447.8 85.0 447.0 C93.3 446.2 88.3 445.8 100.0 446.0 C111.7 446.2 103.3 446.6 120.0 447.5 C136.7 448.4 133.3 448.3 150.0 448.7 C166.7 449.1 158.3 449.3 170.0 448.7 C181.7 448.1 175.0 448.2 185.0 447.0 C195.0 445.8 188.6 446.7 200.0 445.2 C211.4 443.7 207.6 444.7 219.3 442.5 C231.0 440.3 225.2 441.2 235.0 438.5 C244.8 435.8 237.6 437.8 248.6 434.3 C259.6 430.8 255.0 432.1 268.0 428.0 C281.0 423.9 276.9 424.8 287.6 422.0 C298.3 419.2 290.9 420.7 300.0 419.5 C309.1 418.3 306.1 418.3 315.0 418.3 C323.9 418.3 317.6 417.4 326.7 419.5 C335.8 421.6 332.5 420.5 342.3 424.5 C352.1 428.5 348.1 426.9 356.0 431.4 C363.9 435.9 359.5 433.5 366.0 438.0 C372.5 442.5 369.8 441.0 375.5 445.0 C381.2 449.0 377.6 446.1 383.0 450.0 C388.4 453.9 386.7 453.5 391.7 456.8 C396.7 460.1 393.4 458.1 398.0 460.0 C402.6 461.9 400.7 461.2 405.4 462.6 C410.1 464.0 407.5 463.2 412.0 464.2 C416.5 465.2 413.7 464.1 419.0 465.5 C424.3 466.9 421.5 466.3 428.0 468.5 C434.5 470.7 432.6 470.3 438.6 472.0 C444.6 473.7 440.8 472.7 446.0 473.5 C451.2 474.3 448.5 474.1 454.2 474.3 C459.9 474.5 457.1 474.3 463.0 474.1 C468.9 473.9 465.1 474.0 471.8 473.6 C478.5 473.2 475.2 473.4 483.0 473.0 C490.8 472.6 486.9 472.8 495.2 472.5 C503.5 472.2 499.5 472.2 508.0 472.0 C516.5 471.8 513.9 471.6 520.6 471.8 C527.3 472.0 522.8 472.0 528.0 472.5 C533.2 473.0 529.6 473.0 536.3 473.3 C543.0 473.6 541.4 473.6 548.0 473.5 C554.6 473.4 550.8 473.4 556.0 473.0 C561.2 472.6 558.3 472.5 563.6 472.3 C568.9 472.1 565.4 472.2 572.0 472.4 C578.6 472.6 575.7 472.5 583.4 472.8 C591.1 473.1 587.2 472.9 595.0 473.4 C602.8 473.9 599.9 473.5 606.9 474.3 C613.9 475.1 610.1 474.8 616.0 475.8 C621.9 476.8 618.5 476.4 624.5 477.3 C630.5 478.2 627.5 477.7 634.0 478.5 C640.5 479.3 637.0 478.9 644.0 479.6 C651.0 480.3 647.8 480.1 655.0 480.6 C662.2 481.1 659.5 481.1 665.5 481.2 C671.5 481.3 667.8 481.3 673.0 481.0 C678.2 480.7 675.7 480.8 681.0 480.2 C686.3 479.6 683.8 479.9 689.0 479.2 C694.2 478.5 691.7 478.9 696.7 478.2 C701.7 477.5 698.8 477.9 704.0 477.2 C709.2 476.5 707.3 476.7 712.3 476.0 C717.3 475.3 714.6 475.7 719.0 475.0 C723.4 474.3 723.4 474.3 725.6 474.0"/>
<path fill="none" stroke="#4560a2" stroke-width="1.2" stroke-linejoin="round" d="M4.5 451.4 C9.7 451.6 8.2 452.1 20.0 452.0 C31.8 451.9 26.7 451.9 40.0 451.2 C53.3 450.5 48.3 451.6 60.0 450.0 C71.7 448.4 65.7 448.4 75.0 446.5 C84.3 444.6 79.7 444.5 88.0 444.2 C96.3 443.9 91.0 444.2 100.0 445.5 C109.0 446.8 101.7 447.2 115.0 448.0 C128.3 448.8 127.7 447.3 140.0 448.0 C152.3 448.7 145.3 449.1 152.0 450.0 C158.7 450.9 154.0 450.9 160.0 450.6 C166.0 450.3 163.3 450.2 170.0 449.0 C176.7 447.8 173.3 448.7 180.0 447.0 C186.7 445.3 183.3 445.6 190.0 444.0 C196.7 442.4 191.5 443.8 200.0 442.2 C208.5 440.6 207.1 441.8 215.4 439.2 C223.7 436.6 216.8 437.5 225.0 434.3 C233.2 431.1 229.5 432.8 240.0 429.5 C250.5 426.2 247.1 428.1 256.4 424.5 C265.7 420.9 260.1 422.4 268.0 418.7 C275.9 415.0 273.5 415.8 280.0 413.5 C286.5 411.2 282.6 412.0 287.6 411.8 C292.6 411.6 289.8 411.9 295.0 413.0 C300.2 414.1 297.6 414.3 303.3 415.0 C309.0 415.7 306.4 414.0 312.0 415.0 C317.6 416.0 315.1 415.8 320.0 418.0 C324.9 420.2 321.4 418.3 326.7 421.6 C332.0 424.9 330.1 423.8 336.0 428.0 C341.9 432.2 339.0 429.0 344.3 434.3 C349.6 439.6 346.8 438.1 352.0 444.0 C357.2 449.9 354.8 446.8 360.0 452.0 C365.2 457.2 361.9 453.9 367.7 459.7 C373.5 465.5 371.6 464.5 377.5 469.5 C383.4 474.5 380.5 472.4 385.3 474.6 C390.1 476.8 387.3 475.4 392.0 476.0 C396.7 476.6 392.4 476.9 399.5 476.3 C406.6 475.7 404.7 474.1 413.2 474.3 C421.7 474.5 416.5 474.8 425.0 477.0 C433.5 479.2 430.8 480.6 438.6 481.0 C446.4 481.4 440.6 480.4 448.4 478.2 C456.2 476.0 454.2 476.1 462.0 474.3 C469.8 472.5 464.8 473.6 471.8 472.7 C478.8 471.8 475.2 472.1 483.0 471.5 C490.8 470.9 486.9 471.0 495.2 470.8 C503.5 470.6 499.5 470.8 508.0 471.0 C516.5 471.2 513.9 470.8 520.6 471.4 C527.3 472.0 522.8 471.9 528.0 472.8 C533.2 473.7 530.3 473.6 536.3 474.0 C542.3 474.4 539.8 474.5 546.0 474.0 C552.2 473.5 549.1 473.4 555.0 472.6 C560.9 471.8 557.9 471.9 563.6 471.6 C569.3 471.3 565.4 471.4 572.0 471.8 C578.6 472.2 575.7 471.6 583.4 472.8 C591.1 474.0 587.7 474.1 595.2 475.3 C602.7 476.5 599.6 475.1 605.9 476.3 C612.2 477.5 608.5 477.1 614.0 479.0 C619.5 480.9 617.2 480.8 622.5 482.0 C627.8 483.2 624.8 482.3 630.0 482.6 C635.2 482.9 632.8 482.5 638.1 483.0 C643.4 483.5 640.8 483.4 646.0 484.0 C651.2 484.6 649.1 484.8 653.8 484.7 C658.4 484.6 656.1 484.5 660.0 483.8 C663.9 483.1 661.8 483.4 665.5 482.5 C669.2 481.6 667.1 482.2 671.0 481.0 C674.9 479.8 672.5 480.5 677.2 479.0 C681.9 477.5 680.7 477.7 685.0 476.5 C689.3 475.3 686.1 476.2 690.0 475.5 C693.9 474.8 692.7 475.3 696.7 474.5 C700.7 473.7 698.1 474.0 702.0 473.0 C705.9 472.0 704.7 472.4 708.4 471.4 C712.1 470.4 709.7 471.0 713.0 470.0 C716.3 469.0 714.0 469.3 718.2 468.5 C722.4 467.7 723.1 467.8 725.6 467.5"/>
<line x1="4.3" y1="470.2" x2="382.4" y2="491.3" stroke="#7a52b8" stroke-width="2.6" stroke-linecap="round"/>
</g>
<path fill="#fff" fill-rule="evenodd" d="M349.6 53.5 H475.4 V83.4 H349.6 Z M351.9 55.5 H473.1 V81.4 H351.9 Z"/>
<rect x="351.9" y="55.5" width="121.2" height="25.9" fill="#3a8327" fill-opacity="0.8"/>
<text x="356.2" y="74.8" font-size="19.2" fill="#0b240b" stroke="#0b240b" stroke-width="0.7" textLength="113.4" lengthAdjust="spacingAndGlyphs">Поглощения</text>
<path fill="#fff" fill-rule="evenodd" d="M134.7 104.3 H219.0 V133.9 H134.7 Z M137.0 106.3 H216.7 V131.9 H137.0 Z"/>
<rect x="137.0" y="106.3" width="79.7" height="25.6" fill="#3a8327" fill-opacity="0.8"/>
<text x="141.3" y="124.9" font-size="18" fill="#0b240b" stroke="#0b240b" stroke-width="0.7" textLength="70.9" lengthAdjust="spacingAndGlyphs">Вымпел</text>
<path fill="#fff" fill-rule="evenodd" d="M206.9 240.2 H290.9 V269.0 H206.9 Z M209.2 242.2 H288.6 V267.0 H209.2 Z"/>
<rect x="209.2" y="242.2" width="79.4" height="24.8" fill="#3a8327" fill-opacity="0.8"/>
<text x="213.3" y="260.0" font-size="17.6" fill="#0b240b" stroke="#0b240b" stroke-width="0.7" textLength="70.8" lengthAdjust="spacingAndGlyphs">Вымпел</text>
<path fill="#fff" fill-rule="evenodd" d="M412.9 164.5 H575.2 V197.8 H412.9 Z M415.2 165.5 H572.9 V195.8 H415.2 Z"/>
<rect x="415.2" y="165.5" width="157.7" height="30.3" fill="#3a8327" fill-opacity="0.8"/>
<text x="419.9" y="188.4" font-size="22.2" fill="#0b240b" stroke="#0b240b" stroke-width="0.9" textLength="142.9" lengthAdjust="spacingAndGlyphs">Треугольник</text>
<path fill="#fff" fill-rule="evenodd" d="M47.9 335.0 H193.9 V364.3 H47.9 Z M50.2 337.0 H191.6 V362.3 H50.2 Z"/>
<rect x="50.2" y="337.0" width="141.4" height="25.3" fill="#3a8327" fill-opacity="0.8"/>
<text x="54.0" y="355.8" font-size="18" fill="#0b240b" stroke="#0b240b" stroke-width="0.7" textLength="127.4" lengthAdjust="spacingAndGlyphs">Линия тренда</text>
<path fill="#fff" fill-rule="evenodd" d="M277.9 322.4 H403.8 V351.3 H277.9 Z M280.2 324.4 H401.5 V349.3 H280.2 Z"/>
<rect x="280.2" y="324.4" width="121.3" height="24.9" fill="#3a8327" fill-opacity="0.8"/>
<text x="284.0" y="342.9" font-size="17.8" fill="#0b240b" stroke="#0b240b" stroke-width="0.7" textLength="114.2" lengthAdjust="spacingAndGlyphs">Поглощение</text>
<path fill="#fff" fill-rule="evenodd" d="M285.0 371.5 H518.6 V404.8 H285.0 Z M287.3 373.5 H516.3 V402.8 H287.3 Z"/>
<rect x="287.3" y="373.5" width="229.0" height="29.3" fill="#3a8327" fill-opacity="0.8"/>
<text x="292.2" y="394.8" font-size="22" fill="#0b240b" stroke="#0b240b" stroke-width="0.9" textLength="218.5" lengthAdjust="spacingAndGlyphs">Двойное основание</text>
<path fill="#fff" fill-rule="evenodd" d="M500.4 304.1 H574.5 V333.5 H500.4 Z M502.7 306.1 H572.2 V331.5 H502.7 Z"/>
<rect x="502.7" y="306.1" width="69.5" height="25.4" fill="#3a8327" fill-opacity="0.8"/>
<text x="506.1" y="324.9" font-size="18" fill="#0b240b" stroke="#0b240b" stroke-width="0.7" textLength="61.5" lengthAdjust="spacingAndGlyphs">Доджи</text>
<path fill="#fff" fill-rule="evenodd" d="M39.9 478.2 H174.2 V503.1 H39.9 Z M42.2 480.2 H171.9 V503.1 H42.2 Z"/>
<rect x="42.2" y="480.2" width="129.7" height="22.9" fill="#3a8327" fill-opacity="0.8"/>
<text x="45.6" y="499.4" font-size="18.9" fill="#0b240b" stroke="#0b240b" stroke-width="0.7" textLength="121.9" lengthAdjust="spacingAndGlyphs">Дивергенция</text>
<path fill="#fff" fill-rule="evenodd" d="M737.9 278.3 H850.3 V326.7 H737.9 Z M740.2 280.3 H848.0 V324.7 H740.2 Z"/>
<rect x="740.2" y="280.3" width="107.8" height="44.4" fill="#3a8327" fill-opacity="0.8"/>
<text x="743.7" y="298.7" font-size="18" fill="#0b240b" stroke="#0b240b" stroke-width="0.7" textLength="98.0" lengthAdjust="spacingAndGlyphs">Три белых</text>
<text x="743.7" y="317.4" font-size="18" fill="#0b240b" stroke="#0b240b" stroke-width="0.7" textLength="99.0" lengthAdjust="spacingAndGlyphs">солдата - ?</text>
<g fill="none" stroke="#6e6e6e" shape-rendering="crispEdges">
<rect x="4.5" y="22.5" width="1013.0" height="514.5" stroke-width="1"/>
<line x1="941.0" y1="22.5" x2="941.0" y2="537.0" stroke-width="1"/>
<line x1="4.5" y1="410.8" x2="1017.5" y2="410.8" stroke-width="2" stroke="#8a8a8a"/>
<line x1="4.5" y1="503.0" x2="1017.5" y2="503.0" stroke-width="1"/>
</g>
<g clip-path="url(#paxis)">
<g stroke="#6e6e6e" stroke-width="1" shape-rendering="crispEdges">
<line x1="941.0" y1="35.7" x2="945.0" y2="35.7"/>
<line x1="941.0" y1="84.5" x2="945.0" y2="84.5"/>
<line x1="941.0" y1="133.2" x2="945.0" y2="133.2"/>
<line x1="941.0" y1="181.9" x2="945.0" y2="181.9"/>
<line x1="941.0" y1="230.6" x2="945.0" y2="230.6"/>
<line x1="941.0" y1="279.3" x2="945.0" y2="279.3"/>
<line x1="941.0" y1="328.1" x2="945.0" y2="328.1"/>
<line x1="941.0" y1="376.8" x2="945.0" y2="376.8"/>
<line x1="941.0" y1="417.7" x2="945.0" y2="417.7"/>
<line x1="941.0" y1="461.6" x2="945.0" y2="461.6"/>
</g>
<g font-size="14.8" fill="#5a5a5a">
<text x="951.7" y="41.1" textLength="53.5" lengthAdjust="spacingAndGlyphs">4400.00</text>
<text x="951.7" y="89.9" textLength="53.5" lengthAdjust="spacingAndGlyphs">4000.00</text>
<text x="951.7" y="138.6" textLength="53.5" lengthAdjust="spacingAndGlyphs">3600.00</text>
<text x="951.7" y="187.3" textLength="53.5" lengthAdjust="spacingAndGlyphs">3200.00</text>
<text x="951.7" y="236.0" textLength="53.5" lengthAdjust="spacingAndGlyphs">2800.00</text>
<text x="951.7" y="284.7" textLength="53.5" lengthAdjust="spacingAndGlyphs">2400.00</text>
<text x="951.7" y="333.5" textLength="53.5" lengthAdjust="spacingAndGlyphs">2000.00</text>
<text x="951.7" y="382.2" textLength="53.5" lengthAdjust="spacingAndGlyphs">1600.00</text>
<text x="951.7" y="423.1" textLength="45.5" lengthAdjust="spacingAndGlyphs">400.00</text>
<text x="951.7" y="466.6" textLength="30" lengthAdjust="spacingAndGlyphs">0.00</text>
</g>
<rect x="958.2" y="29.4" width="41.4" height="21" rx="3.5" fill="#fff" stroke="#d4d4d4" stroke-width="1"/>
<text x="961" y="44.9" font-size="15" fill="#5a5a5a" textLength="36" lengthAdjust="spacingAndGlyphs">USDT</text>
<rect x="940.8" y="281" width="72.4" height="21.6" rx="2" fill="#d00f1c"/>
<text x="952.5" y="297.3" font-size="14.5" font-weight="bold" fill="#fff" textLength="53.5" lengthAdjust="spacingAndGlyphs">2297.88</text>
</g>
<g stroke="#6e6e6e" stroke-width="1" shape-rendering="crispEdges">
<line x1="74.4" y1="503.0" x2="74.4" y2="506.5"/>
<line x1="209.2" y1="503.0" x2="209.2" y2="506.5"/>
<line x1="336.1" y1="503.0" x2="336.1" y2="506.5"/>
<line x1="455.1" y1="503.0" x2="455.1" y2="506.5"/>
<line x1="558.2" y1="503.0" x2="558.2" y2="506.5"/>
<line x1="693.0" y1="503.0" x2="693.0" y2="506.5"/>
<line x1="835.7" y1="503.0" x2="835.7" y2="506.5"/>
<line x1="938.8" y1="503.0" x2="938.8" y2="506.5"/>
</g>
<g clip-path="url(#taxis)" font-size="14" fill="#555" text-anchor="middle">
<text x="74.4" y="525" font-weight="normal">14</text>
<text x="209.2" y="525" font-weight="bold">May</text>
<text x="336.1" y="525" font-weight="normal">17</text>
<text x="455.1" y="525" font-weight="bold">Jun</text>
<text x="558.2" y="525" font-weight="normal">14</text>
<text x="693.0" y="525" font-weight="bold">Jul</text>
<text x="835.7" y="525" font-weight="normal">19</text>
<text x="938.8" y="525" font-weight="bold">Aug</text>
</g>
<g font-size="11.6" fill="#1c1c1c">
<text x="5" y="13.3" font-weight="bold" textLength="126" lengthAdjust="spacingAndGlyphs">BINANCE:ETHUSDT, 1D</text>
<text x="137.5" y="13.3" textLength="42.3" lengthAdjust="spacingAndGlyphs">2297.75</text>
<path d="M183.6 4.8 L193.2 4.8 L188.4 13.8 Z" fill="#d8413f"/>
<text x="197" y="13.3" textLength="88.5" lengthAdjust="spacingAndGlyphs">−24.94 (−1.07%)</text>
<text x="289.7" y="13.3" font-weight="bold" textLength="10.8" lengthAdjust="spacingAndGlyphs">O:</text>
<text x="303.5" y="13.3" fill="#dc7f80" textLength="43.0" lengthAdjust="spacingAndGlyphs">2322.69</text>
<text x="352.2" y="13.3" font-weight="bold" textLength="10.0" lengthAdjust="spacingAndGlyphs">H:</text>
<text x="365.2" y="13.3" fill="#dc7f80" textLength="42.6" lengthAdjust="spacingAndGlyphs">2324.64</text>
<text x="414.0" y="13.3" font-weight="bold" textLength="7.5" lengthAdjust="spacingAndGlyphs">L:</text>
<text x="424.0" y="13.3" fill="#dc7f80" textLength="42.0" lengthAdjust="spacingAndGlyphs">2243.00</text>
<text x="471.5" y="13.3" font-weight="bold" textLength="9.5" lengthAdjust="spacingAndGlyphs">C:</text>
<text x="484.0" y="13.3" fill="#dc7f80" textLength="42.0" lengthAdjust="spacingAndGlyphs">2297.88</text>
</g>
<text x="13" y="43" font-size="11.8" font-weight="bold" fill="#555" textLength="197" lengthAdjust="spacingAndGlyphs">Ethereum / TetherUS, 1D, BINANCE</text>
<text x="13" y="59.6" font-size="12" fill="#666" textLength="97" lengthAdjust="spacingAndGlyphs">MA (200, close, 0)</text>
<text x="13" y="75.5" font-size="12" fill="#666" textLength="90" lengthAdjust="spacingAndGlyphs">MA (50, close, 0)</text>
<text x="12.5" y="431" font-size="12" fill="#666" textLength="125" lengthAdjust="spacingAndGlyphs">MACD (12, 26, close, 9)</text>
</svg></body></html>
